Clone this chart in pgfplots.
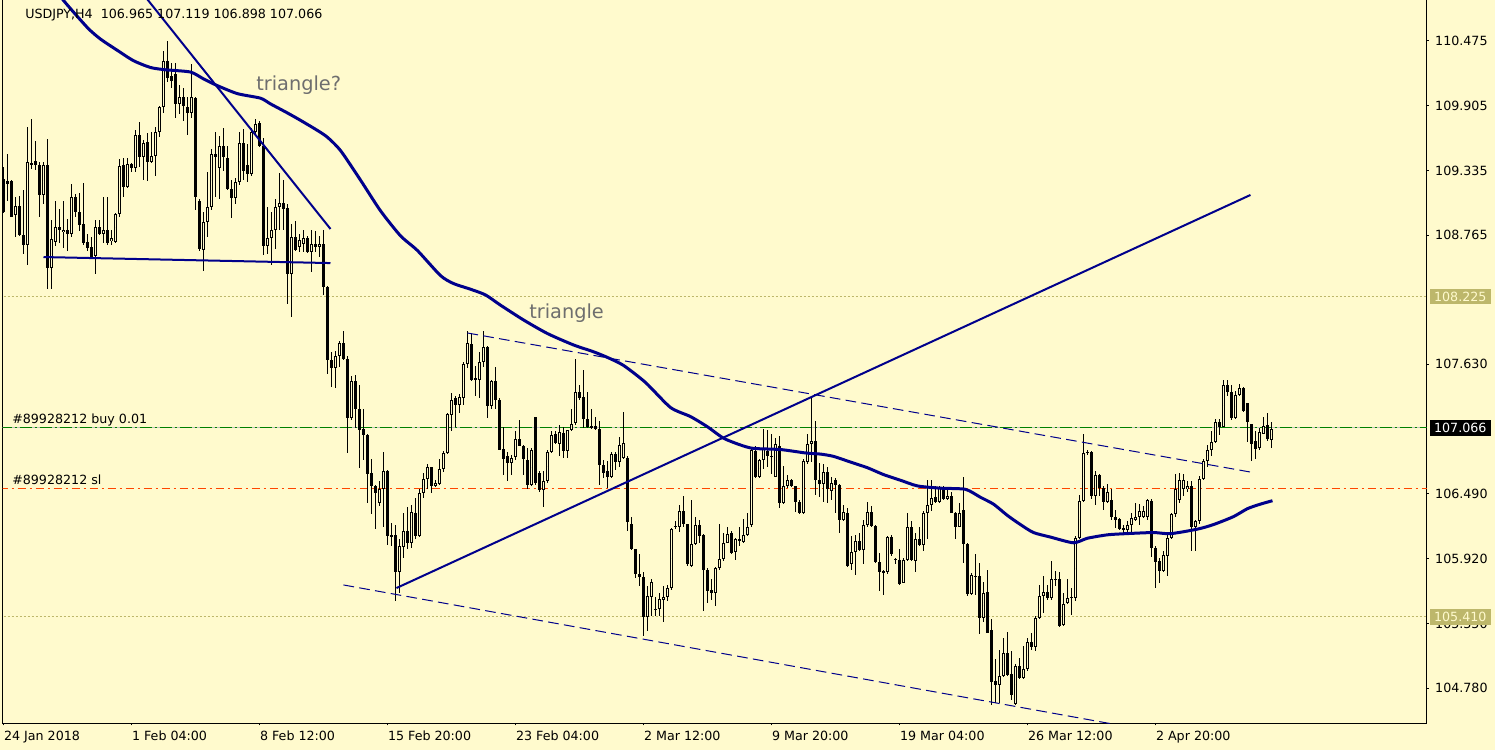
\documentclass[border=0pt]{standalone}
\usepackage{pgfplots}
\pgfplotsset{compat=1.18}
\usepackage{pgfplotstable}
\usepackage{fontspec}
\setmainfont{DejaVu Sans}

\definecolor{chartbg}{HTML}{FFFACD}
\definecolor{mtnavy}{HTML}{00008B}
\definecolor{khaki}{HTML}{BDB76B}
\definecolor{ordergreen}{HTML}{008000}
\definecolor{slred}{HTML}{FF4500}
\definecolor{notegray}{HTML}{6E6E6E}

% USDJPY H4 candles: index, open, high, low, close
\pgfplotstableread{
i o h l c
0 109.26 109.37 108.96 108.97
1 109.24 109.48 109.07 109.22
2 109.24 109.25 108.93 108.93
3 108.94 109.10 108.75 109.02
4 109.02 109.11 108.76 108.77
5 108.77 109.16 108.60 108.68
6 108.68 109.72 108.50 109.41
7 109.40 109.79 109.35 109.38
8 109.42 109.59 109.34 109.38
9 109.38 109.41 108.93 109.12
10 109.12 109.41 109.04 109.38
11 109.38 109.61 108.29 108.48
12 108.48 108.90 108.29 108.73
13 108.71 109.07 108.67 108.84
14 108.84 109.00 108.70 108.81
15 108.79 109.07 108.65 108.81
16 108.81 108.91 108.63 108.78
17 108.78 109.22 108.75 109.10
18 109.10 109.13 108.93 108.97
19 108.97 109.14 108.80 108.86
20 108.86 109.22 108.68 108.70
21 108.71 108.78 108.63 108.65
22 108.66 108.75 108.56 108.57
23 108.58 108.90 108.42 108.84
24 108.84 108.90 108.77 108.78
25 108.78 109.10 108.70 108.81
26 108.81 109.10 108.68 108.70
27 108.71 108.81 108.68 108.74
28 108.71 108.96 108.70 108.95
29 108.95 109.44 108.93 109.37
30 109.38 109.44 109.10 109.19
31 109.19 109.44 109.18 109.39
32 109.39 109.40 109.32 109.36
33 109.36 109.69 109.32 109.65
34 109.65 109.76 109.37 109.45
35 109.45 109.60 109.25 109.58
36 109.59 109.66 109.24 109.41
37 109.41 109.67 109.40 109.46
38 109.46 109.72 109.29 109.67
39 109.67 109.90 109.63 109.89
40 109.89 110.39 109.84 110.30
41 110.30 110.47 110.11 110.15
42 110.17 110.28 110.06 110.12
43 110.18 110.28 109.80 109.92
44 109.92 110.09 109.83 109.98
45 109.98 110.06 109.77 109.90
46 109.89 109.98 109.65 109.84
47 109.84 110.27 109.80 109.98
48 109.97 109.98 108.99 109.10
49 109.07 109.08 108.63 108.64
50 108.64 108.97 108.45 108.88
51 108.88 109.32 108.75 109.01
52 109.01 109.52 108.99 109.48
53 109.48 109.67 109.10 109.45
54 109.36 109.64 109.08 109.55
55 109.55 109.71 109.33 109.45
56 109.44 109.55 109.16 109.17
57 109.17 109.25 108.92 109.09
58 109.09 109.27 109.04 109.23
59 109.23 109.67 109.21 109.58
60 109.58 109.70 109.25 109.33
61 109.38 109.57 109.23 109.30
62 109.30 109.71 109.29 109.67
63 109.67 109.79 109.65 109.74
64 109.75 109.77 109.54 109.55
65 109.55 109.62 108.59 108.67
66 108.67 109.01 108.60 108.74
67 108.74 108.97 108.50 108.81
68 108.81 109.08 108.64 109.01
69 109.01 109.31 108.81 109.05
70 109.05 109.25 108.81 109.00
71 109.00 109.04 108.16 108.42
72 108.42 108.86 108.05 108.75
73 108.75 108.89 108.63 108.64
74 108.66 108.78 108.62 108.72
75 108.69 108.81 108.62 108.74
76 108.74 108.76 108.61 108.62
77 108.62 108.81 108.44 108.69
78 108.69 108.80 108.62 108.66
79 108.66 108.76 108.57 108.69
80 108.69 108.81 108.24 108.31
81 108.31 108.32 107.54 107.67
82 107.67 107.74 107.43 107.60
83 107.60 107.75 107.42 107.70
84 107.70 107.84 107.61 107.82
85 107.82 107.92 107.67 107.68
86 107.68 107.70 106.85 107.16
87 107.16 107.53 107.14 107.48
88 107.48 107.54 107.07 107.24
89 107.24 107.45 106.72 107.05
90 107.06 107.24 106.79 107.01
91 107.01 107.02 106.41 106.67
92 106.67 106.80 106.31 106.56
93 106.56 106.57 106.18 106.50
94 106.41 106.60 106.38 106.53
95 106.53 106.86 106.20 106.69
96 106.69 106.70 106.04 106.12
97 106.13 106.23 106.03 106.11
98 106.13 106.22 105.55 105.80
99 105.80 106.09 105.62 106.03
100 106.02 106.32 105.93 106.16
101 106.16 106.38 106.01 106.06
102 106.06 106.39 106.01 106.33
103 106.32 106.45 106.09 106.12
104 106.12 106.53 106.11 106.50
105 106.50 106.67 106.45 106.62
106 106.62 106.75 106.53 106.73
107 106.73 106.73 106.50 106.56
108 106.56 106.61 106.55 106.59
109 106.58 106.80 106.57 106.71
110 106.71 106.87 106.68 106.85
111 106.85 107.20 106.84 107.19
112 107.18 107.38 107.04 107.32
113 107.33 107.35 107.08 107.27
114 107.27 107.37 107.20 107.34
115 107.33 107.65 107.27 107.63
116 107.63 107.92 107.60 107.82
117 107.81 107.90 107.48 107.49
118 107.51 107.62 107.35 107.49
119 107.49 107.74 107.33 107.65
120 107.65 107.92 107.61 107.78
121 107.78 107.79 107.16 107.26
122 107.26 107.49 107.24 107.48
123 107.48 107.61 107.24 107.32
124 107.32 107.33 106.88 106.88
125 106.89 107.08 106.66 106.80
126 106.82 106.86 106.60 106.76
127 106.76 106.83 106.66 106.81
128 106.81 107.04 106.79 106.97
129 106.97 107.14 106.91 106.91
130 106.91 106.92 106.66 106.80
131 106.79 106.89 106.53 106.57
132 106.57 106.89 106.56 106.88
133 107.17 107.17 106.57 106.59
134 106.67 106.69 106.51 106.52
135 106.52 106.69 106.38 106.60
136 106.60 106.88 106.59 106.86
137 106.86 107.04 106.85 107.01
138 107.02 107.04 106.93 106.94
139 106.93 107.10 106.82 107.03
140 107.03 107.08 106.81 106.87
141 106.87 107.05 106.81 107.05
142 107.05 107.24 107.04 107.11
143 107.11 107.68 107.10 107.39
144 107.39 107.45 107.32 107.33
145 107.34 107.58 107.07 107.15
146 107.15 107.39 107.07 107.08
147 107.09 107.24 107.06 107.07
148 107.09 107.17 107.05 107.06
149 107.06 107.13 106.57 106.74
150 106.74 106.79 106.63 106.67
151 106.69 106.78 106.54 106.64
152 106.64 106.86 106.63 106.84
153 106.84 106.86 106.70 106.77
154 106.77 106.99 106.73 106.92
155 106.81 107.21 106.80 106.94
156 106.81 106.82 106.16 106.24
157 106.23 106.29 106.00 106.01
158 106.01 106.01 105.75 105.79
159 105.79 105.96 105.68 105.76
160 105.76 105.80 105.24 105.41
161 105.41 105.68 105.28 105.59
162 105.58 105.74 105.42 105.72
163 105.47 105.58 105.42 105.48
164 105.48 105.62 105.42 105.57
165 105.56 105.68 105.36 105.58
166 105.58 105.69 105.55 105.66
167 105.66 106.19 105.65 106.18
168 106.20 106.25 106.18 106.21
169 106.20 106.39 106.16 106.34
170 106.34 106.47 106.20 106.23
171 106.23 106.23 105.86 105.87
172 105.86 106.44 105.85 106.05
173 106.05 106.29 106.04 106.22
174 106.22 106.26 106.06 106.12
175 106.13 106.14 105.46 105.82
176 105.82 105.84 105.53 105.64
177 105.65 105.74 105.56 105.62
178 105.62 105.85 105.50 105.84
179 105.84 106.23 105.82 105.92
180 105.92 106.15 105.90 106.06
181 106.06 106.20 106.06 106.14
182 106.15 106.16 105.96 105.97
183 105.98 106.10 105.91 106.09
184 106.09 106.20 106.03 106.08
185 106.07 106.27 106.06 106.13
186 106.13 106.32 106.12 106.20
187 106.22 106.89 106.20 106.88
188 106.87 106.91 106.63 106.64
189 106.64 106.80 106.63 106.79
190 106.79 107.06 106.71 106.89
191 106.87 107.05 106.73 106.82
192 106.82 107.02 106.67 106.82
193 106.64 106.98 106.64 106.93
194 106.91 107.00 106.37 106.41
195 106.41 106.74 106.40 106.56
196 106.56 106.66 106.54 106.61
197 106.61 106.62 106.55 106.56
198 106.56 106.56 106.33 106.42
199 106.42 106.44 106.31 106.32
200 106.32 106.80 106.31 106.78
201 106.77 107.02 106.75 106.93
202 106.93 107.33 106.77 106.96
203 106.96 107.13 106.48 106.61
204 106.61 106.76 106.46 106.58
205 106.58 106.75 106.42 106.68
206 106.68 106.73 106.41 106.53
207 106.52 106.64 106.44 106.59
208 106.61 106.63 106.32 106.57
209 106.57 106.58 106.15 106.26
210 106.26 106.39 106.25 106.33
211 106.32 106.37 105.85 105.86
212 105.87 106.12 105.82 105.98
213 105.98 106.13 105.78 106.08
214 106.08 106.15 105.99 106.00
215 106.00 106.26 105.87 106.22
216 106.22 106.42 106.20 106.33
217 106.33 106.38 106.20 106.21
218 106.21 106.22 105.88 105.89
219 105.89 105.97 105.64 105.80
220 105.81 105.82 105.60 105.79
221 105.80 106.12 105.79 106.11
222 106.11 106.13 105.94 105.96
223 105.92 105.93 105.87 105.91
224 105.91 106.01 105.69 105.70
225 105.71 105.93 105.71 105.91
226 105.91 106.32 105.90 106.20
227 106.20 106.25 105.90 105.91
228 105.90 106.15 105.80 106.09
229 106.09 106.20 106.03 106.04
230 106.04 106.34 105.99 106.32
231 106.32 106.61 106.09 106.39
232 106.39 106.61 106.34 106.45
233 106.46 106.56 106.41 106.42
234 106.42 106.56 106.41 106.54
235 106.54 106.56 106.44 106.45
236 106.45 106.53 106.44 106.47
237 106.47 106.51 106.32 106.32
238 106.32 106.33 106.09 106.20
239 106.20 106.41 106.20 106.32
240 106.35 106.64 105.88 106.05
241 106.05 106.06 105.59 105.61
242 105.61 105.79 105.60 105.78
243 105.77 105.96 105.60 105.76
244 105.77 105.88 105.26 105.40
245 105.40 105.72 105.36 105.62
246 105.63 105.82 105.27 105.27
247 105.29 105.39 104.63 104.84
248 104.84 105.04 104.65 104.81
249 104.81 105.12 104.65 104.89
250 104.89 105.22 104.88 105.09
251 105.09 105.28 104.89 104.90
252 104.91 105.11 104.68 104.72
253 104.64 104.99 104.63 104.98
254 104.98 105.05 104.86 104.87
255 104.87 105.15 104.86 104.95
256 104.95 105.22 104.93 105.19
257 105.19 105.27 105.12 105.14
258 105.14 105.42 105.11 105.40
259 105.40 105.69 105.39 105.59
260 105.59 105.77 105.44 105.63
261 105.63 105.69 105.56 105.57
262 105.57 105.90 105.56 105.74
263 105.74 105.81 105.68 105.74
264 105.74 105.80 105.32 105.33
265 105.34 105.62 105.33 105.52
266 105.53 105.74 105.52 105.57
267 105.58 105.66 105.43 105.58
268 105.57 106.12 105.55 106.10
269 106.10 106.48 106.09 106.43
270 106.43 107.02 106.42 106.85
271 106.85 106.88 106.83 106.86
272 106.86 106.87 106.45 106.47
273 106.47 106.69 106.39 106.66
274 106.66 106.67 106.47 106.54
275 106.54 106.56 106.35 106.42
276 106.42 106.58 106.41 106.51
277 106.44 106.53 106.26 106.29
278 106.29 106.35 106.19 106.26
279 106.27 106.28 106.17 106.18
280 106.18 106.22 106.15 106.19
281 106.17 106.25 106.15 106.22
282 106.22 106.32 106.15 106.28
283 106.26 106.41 106.25 106.29
284 106.29 106.40 106.22 106.34
285 106.29 106.38 106.28 106.34
286 106.29 106.45 106.26 106.44
287 106.43 106.45 105.94 106.01
288 106.01 106.03 105.66 105.89
289 105.90 105.93 105.71 105.81
290 105.81 105.99 105.80 105.95
291 105.94 106.15 105.77 106.10
292 106.10 106.32 106.09 106.31
293 106.31 106.67 106.29 106.53
294 106.44 106.67 106.41 106.61
295 106.53 106.67 106.47 106.61
296 106.53 106.60 106.51 106.56
297 106.56 106.60 105.99 106.20
298 106.20 106.26 105.99 106.25
299 106.25 106.65 106.23 106.62
300 106.62 106.80 106.61 106.78
301 106.78 106.92 106.73 106.88
302 106.88 107.04 106.82 106.95
303 106.95 107.15 106.94 107.12
304 107.12 107.15 107.01 107.08
305 107.08 107.49 107.08 107.45
306 107.45 107.49 107.35 107.39
307 107.39 107.45 107.14 107.16
308 107.16 107.40 107.15 107.36
309 107.36 107.46 107.35 107.42
310 107.42 107.43 107.21 107.22
311 107.29 107.29 106.95 107.12
312 107.11 107.11 106.78 106.93
313 106.96 107.04 106.80 106.89
314 106.89 107.07 106.88 107.03
315 107.02 107.17 107.02 107.09
316 107.10 107.20 106.96 106.97
317 106.965 107.119 106.898 107.066
}\candles

% moving average
\pgfplotstableread{
i p
12 110.98
15 110.83
21 110.59
24.25 110.49
28.5 110.39
32.5 110.30
36.75 110.24
40.5 110.22
46.75 110.20
50 110.14
53.5 110.08
58.5 110.01
64.25 109.97
66.75 109.92
71 109.84
75 109.76
80.5 109.64
84.25 109.51
89.25 109.25
94.25 108.98
99.25 108.76
103.5 108.63
109.25 108.41
112.5 108.34
116.75 108.29
120.5 108.24
124.25 108.15
130 108.02
136 107.90
142.5 107.80
147.5 107.74
151 107.69
155 107.62
160.5 107.47
166.75 107.25
171.75 107.17
176 107.08
180 106.98
184.25 106.92
187.5 106.89
194.25 106.88
200.5 106.85
204.25 106.84
207.5 106.82
211.75 106.77
216 106.72
220 106.66
224.25 106.61
228.5 106.56
234.25 106.54
240.5 106.53
244.25 106.46
247.5 106.40
251 106.30
254.25 106.22
257.5 106.15
261.75 106.11
267.5 106.06
271 106.10
276 106.13
280.5 106.14
287.5 106.15
291.75 106.14
298.5 106.18
302.5 106.22
307.5 106.29
311 106.36
314.25 106.40
317.25 106.43
}\mavg

\pgfplotsset{
  candle part/.style={only marks, mark=*, mark size=0pt,
    mark options={draw=none, fill=none},
    error bars/.cd, y dir=both, y explicit, error mark=none},
}

\begin{document}
\begin{tikzpicture}
\useasboundingbox (0pt,0pt) rectangle (1121.25pt,562.5pt);
\fill[chartbg] (0pt,0pt) rectangle (1121.25pt,562.5pt);
\begin{axis}[
    at={(2.025pt,20pt)}, anchor=south west,
    scale only axis, width=1068.2pt, height=543.25pt,
    xmin=-0.2, xmax=355.875, ymin=104.472, ymax=110.8425,
    axis line style={black, line width=0.75pt},
    every tick/.style={black, line width=0.75pt},
    tick align=outside, major tick length=1.5pt,
    xtick pos=left, ytick pos=right, yticklabel pos=right,
    tick label style={font=\fontsize{9.5}{11}\selectfont},
    xtick={0,32,64,96,128,160,192,224,256,288},
    xticklabels={24 Jan 2018,1 Feb 04:00,8 Feb 12:00,15 Feb 20:00,23 Feb 04:00,2 Mar 12:00,9 Mar 20:00,19 Mar 04:00,26 Mar 12:00,2 Apr 20:00},
    xticklabel style={anchor=north west, inner sep=0pt, xshift=0.2pt, yshift=-4.3pt},
    ytick={104.78,105.35,105.92,106.49,107.63,108.765,109.335,109.905,110.475},
    yticklabels={104.780,105.350,105.920,106.490,107.630,108.765,109.335,109.905,110.475},
    yticklabel style={anchor=west, inner sep=0pt, xshift=4.5pt},
]
% price levels
\addplot[khaki, line width=0.75pt, dash pattern=on 1.5pt off 1.5pt] coordinates {(-1,108.225) (356,108.225)};
\addplot[khaki, line width=0.75pt, dash pattern=on 1.5pt off 1.5pt] coordinates {(-1,105.410) (356,105.410)};
\addplot[black!25, line width=0.75pt] coordinates {(-1,107.07) (356,107.07)};
\addplot[ordergreen, line width=0.75pt, dash pattern=on 9pt off 2.25pt on 1.5pt off 2.25pt] coordinates {(-1,107.07) (356,107.07)};
\addplot[slred, line width=0.75pt, dash pattern=on 6pt off 3pt on 1.5pt off 3pt] coordinates {(-1,106.54) (356,106.54)};

% wicks
\addplot[candle part, error bar style={black, line width=0.75pt}]
    table[x=i, y expr={(\thisrow{h}+\thisrow{l})/2}, y error expr={(\thisrow{h}-\thisrow{l})/2}] {\candles};
% bodies
\addplot[candle part, error bar style={black, line width=2.25pt}]
    table[x=i, y expr={(\thisrow{o}+\thisrow{c})/2}, y error expr={max(abs(\thisrow{c}-\thisrow{o})/2,0.0045)}] {\candles};
% hollow inside of rising candles
\addplot[candle part, error bar style={chartbg, line width=0.75pt}]
    table[x=i, y expr={(\thisrow{o}+\thisrow{c})/2}, y error expr={max((\thisrow{c}-\thisrow{o})/2-0.0088,0)}] {\candles};

% moving average
\addplot[mtnavy, line width=2.25pt, line join=round, smooth, tension=0.4] table[x=i, y=p] {\mavg};

% trend lines
\addplot[mtnavy, line width=1.5pt] coordinates {(33,110.97) (81.75,108.82)};
\addplot[mtnavy, line width=1.5pt] coordinates {(10,108.573) (81.75,108.52)};
\addplot[mtnavy, line width=1.5pt] coordinates {(98.25,105.662) (311.75,109.119)};
\addplot[mtnavy, line width=0.75pt, dash pattern=on 8pt off 4pt] coordinates {(116,107.905) (311.75,106.682)};
\addplot[mtnavy, line width=0.75pt, dash pattern=on 8pt off 4pt] coordinates {(85,105.689) (277,104.468)};
\end{axis}

% texts
\node[anchor=base west, inner sep=0pt, font=\fontsize{9.5}{11}\selectfont] at (18.75pt,548.25pt) {USDJPY,H4\ \ 106.965 107.119 106.898 107.066};
\node[anchor=base west, inner sep=0pt, font=\fontsize{9.5}{11}\selectfont] at (9pt,244.5pt) {\#89928212 buy 0.01};
\node[anchor=base west, inner sep=0pt, font=\fontsize{9.5}{11}\selectfont] at (9pt,198.75pt) {\#89928212 sl};
\node[anchor=base west, inner sep=0pt, text=notegray, font=\fontsize{14.5}{17}\selectfont] at (192pt,494.25pt) {triangle?};
\node[anchor=base west, inner sep=0pt, text=notegray, font=\fontsize{14.5}{17}\selectfont] at (396.75pt,323.25pt) {triangle};

% price labels on the scale
\node[fill=khaki, text=chartbg, anchor=west, inner sep=0pt, minimum width=46pt, minimum height=11.8pt, font=\fontsize{9.5}{11}\selectfont] at (1072pt,340.04pt) {108.225};
\node[fill=black, text=white, anchor=west, inner sep=0pt, minimum width=46pt, minimum height=11.8pt, font=\fontsize{9.5}{11}\selectfont] at (1072pt,241.6pt) {107.066};
\node[fill=khaki, text=chartbg, anchor=west, inner sep=0pt, minimum width=46pt, minimum height=11.8pt, font=\fontsize{9.5}{11}\selectfont] at (1072pt,100pt) {105.410};
\end{tikzpicture}
\end{document}
